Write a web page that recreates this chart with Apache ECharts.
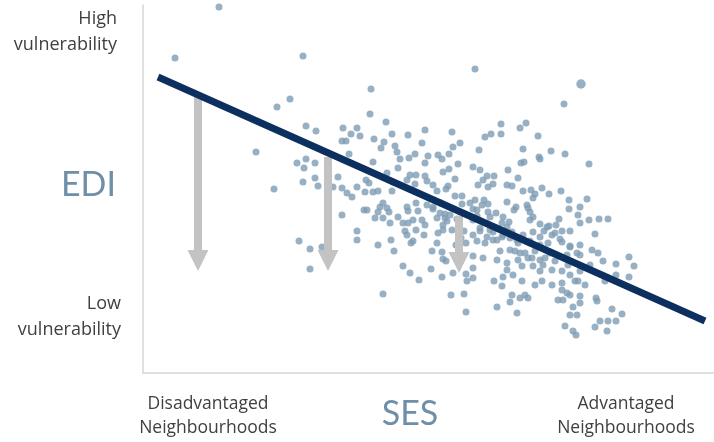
<!DOCTYPE html>
<html>
<head>
<meta charset="utf-8">
<script src="https://cdn.jsdelivr.net/npm/echarts@6/dist/echarts.min.js"></script>
<style>
  html, body { margin: 0; padding: 0; background: #fff; }
  #chart { width: 714px; height: 442px; }
</style>
</head>
<body>
<div id="chart"></div>
<script>
// SES (x) against EDI (y), arbitrary index units
const outlierPoints = [
  [7.6, 36.6], [3.2, 31.5], [16.0, 31.7], [14.7, 27.4], [13.4, 26.6], [11.3, 22.1],
  [13.1, 18.4], [22.8, 28.4], [33.2, 30.4], [42.1, 26.9]
]
const bigPoint = [[43.8, 28.9]]

const leftPoints = [
  [16.3, 24.7], [17.3, 24.2], [15.4, 21.0], [16.3, 21.4], [17.2, 21.0], [16.1, 20.5],
  [17.2, 19.5], [16.0, 19.1], [17.5, 18.7], [19.0, 18.6], [19.5, 19.6], [19.9, 18.5],
  [15.6, 13.2], [16.7, 12.4], [17.9, 12.6], [16.7, 10.4]
]

const midUpperPoints = [
  [22.7, 25.9], [24.3, 25.1], [20.0, 24.5], [21.4, 24.5], [20.8, 23.9], [21.7, 23.7],
  [26.5, 23.8], [28.2, 24.3], [30.9, 24.1], [24.9, 23.9], [19.9, 23.2], [20.3, 23.2],
  [23.1, 23.4], [24.1, 23.1], [27.9, 23.0], [31.7, 23.0], [31.0, 22.6], [25.2, 22.7],
  [23.8, 22.5], [25.4, 22.1], [20.6, 21.9], [26.6, 21.5], [27.2, 21.9], [28.5, 21.7],
  [29.5, 21.8], [30.6, 21.9], [25.7, 21.4], [29.9, 21.4], [23.0, 21.1], [28.2, 21.0],
  [31.5, 20.9], [25.5, 20.5], [30.6, 20.4], [30.0, 20.1], [24.4, 20.0], [26.7, 19.8],
  [27.3, 19.8], [28.2, 19.7], [28.4, 19.2], [26.4, 19.3], [31.2, 19.4], [22.3, 19.3],
  [22.6, 19.0], [25.0, 19.1], [27.2, 18.9], [29.0, 18.8], [30.5, 18.7], [21.4, 18.6],
  [22.2, 18.1], [23.0, 18.1], [23.5, 18.2], [20.4, 18.0], [24.9, 18.2], [29.4, 18.2],
  [30.3, 18.4], [20.9, 17.6], [31.2, 17.7], [31.9, 17.7]
]

const midLowerPoints = [
  [24.0, 17.0], [23.7, 16.6], [24.4, 16.5], [26.4, 16.6], [27.3, 17.0], [28.4, 16.8],
  [29.8, 17.0], [31.9, 16.9], [22.1, 16.3], [22.4, 16.3], [23.5, 16.1], [24.6, 16.1],
  [26.5, 16.2], [27.5, 16.2], [29.0, 16.4], [30.2, 15.9], [19.9, 15.8], [25.5, 15.6],
  [23.2, 15.5], [24.0, 15.5], [27.0, 15.3], [27.9, 15.3], [29.4, 15.5], [30.4, 15.2],
  [31.4, 15.4], [24.7, 15.0], [26.0, 15.0], [26.5, 15.0], [28.2, 14.8], [30.0, 14.8],
  [21.4, 14.2], [21.4, 13.3], [23.5, 12.8], [24.8, 13.3], [25.1, 12.2], [26.2, 14.2],
  [26.4, 13.8], [27.3, 14.3], [28.1, 13.8], [26.8, 13.0], [27.0, 13.2], [29.4, 13.0],
  [28.9, 12.2], [29.9, 12.1], [30.0, 11.4], [30.3, 11.2], [26.0, 10.7], [26.7, 10.0],
  [27.6, 9.3], [28.8, 10.4], [29.9, 9.6], [31.0, 10.0], [32.3, 9.9], [32.4, 9.2],
  [24.0, 7.9], [30.8, 7.8], [32.1, 7.9], [32.3, 6.1], [31.3, 12.8], [31.8, 13.5],
  [30.0, 14.3], [30.9, 14.3], [32.1, 14.2], [32.3, 13.0]
]

const denseCorePoints = [
  [29.0, 16.6], [29.7, 16.0], [30.2, 15.5], [30.7, 15.8], [29.5, 14.0], [32.7, 17.0],
  [33.4, 16.3], [33.9, 16.8], [34.5, 16.1], [33.0, 15.3], [33.7, 14.5], [34.4, 13.6],
  [35.0, 14.1], [35.4, 13.3], [35.9, 13.6], [36.4, 14.6], [36.9, 14.1], [37.4, 13.3],
  [38.0, 13.8], [38.7, 13.0], [36.7, 12.3], [37.7, 12.0], [38.5, 11.5], [39.0, 14.1],
  [39.7, 13.6], [40.4, 14.6], [41.2, 14.0], [41.9, 13.1], [42.7, 12.6], [43.4, 12.0]
]

const rightUpperPoints = [
  [35.8, 24.9], [37.7, 24.5], [38.3, 25.0], [34.2, 23.6], [34.8, 23.9], [35.8, 23.9],
  [39.5, 23.7], [33.6, 22.3], [38.0, 22.4], [39.6, 21.6], [39.7, 21.4], [40.8, 22.2],
  [42.2, 21.9], [37.8, 21.0], [38.1, 21.1], [44.6, 20.9], [33.0, 20.6], [33.7, 20.3],
  [36.5, 20.3], [34.4, 19.7], [35.1, 19.7], [34.0, 19.3], [37.5, 19.5], [33.5, 18.8],
  [34.5, 18.6], [35.0, 18.9], [36.4, 18.8], [36.9, 18.7], [38.0, 18.2], [38.8, 18.3],
  [39.9, 18.5], [40.6, 17.9], [41.8, 18.2], [39.2, 17.9], [39.0, 17.5], [33.2, 17.3],
  [34.1, 17.3], [34.5, 16.9], [36.4, 17.1], [38.4, 16.8], [38.5, 16.5], [37.3, 16.6],
  [37.1, 16.3], [42.6, 17.3], [44.4, 17.4], [43.7, 16.6], [42.6, 16.4], [33.0, 16.4],
  [35.3, 16.0], [38.7, 16.1], [39.0, 15.6], [43.5, 15.8], [33.4, 15.7], [36.0, 15.6],
  [36.6, 15.1], [35.9, 15.0], [38.7, 15.3], [39.7, 14.9], [40.6, 14.7], [41.3, 14.8],
  [41.6, 15.4], [43.7, 15.0], [44.6, 15.3], [45.6, 15.4], [46.5, 15.4], [34.7, 15.6]
]

const rightLowerPoints = [
  [33.0, 13.8], [33.7, 14.2], [34.7, 14.3], [33.4, 13.2], [34.2, 13.0], [35.0, 13.3],
  [36.0, 13.8], [36.7, 13.5], [40.1, 14.2], [40.9, 13.8], [41.9, 14.2], [42.7, 14.2],
  [45.2, 13.9], [41.7, 13.4], [37.5, 13.0], [38.7, 13.2], [39.7, 12.8], [40.5, 13.0],
  [42.7, 12.7], [43.7, 12.8], [44.9, 12.3], [45.5, 12.0], [35.7, 12.2], [37.2, 12.2],
  [38.2, 12.0], [39.2, 12.2], [40.7, 12.0], [42.4, 11.8], [43.7, 11.8], [33.0, 11.7],
  [34.0, 11.5], [35.4, 11.3], [38.9, 11.5], [39.7, 11.3], [40.2, 11.5], [41.2, 11.2],
  [37.5, 11.3], [36.4, 11.0], [46.0, 11.2], [48.6, 11.6], [47.3, 10.9], [49.1, 10.7],
  [37.9, 10.7], [39.0, 10.7], [40.0, 10.8], [40.9, 10.3], [41.9, 10.2], [42.5, 10.8],
  [33.0, 10.5], [36.4, 10.3], [39.7, 10.2], [43.7, 10.2], [44.7, 10.8], [37.0, 9.8],
  [42.7, 9.8], [43.2, 9.2], [43.5, 9.2], [33.0, 9.5], [36.0, 9.6], [35.1, 9.2],
  [37.9, 9.2], [39.9, 9.2], [40.9, 8.8], [41.9, 9.0], [39.2, 8.8], [35.9, 8.7],
  [44.2, 8.8], [46.2, 9.2], [47.3, 9.8], [48.6, 9.6], [36.9, 7.8], [37.7, 7.5],
  [38.2, 7.8], [38.5, 7.5], [41.9, 8.3], [42.4, 8.0], [41.5, 7.3], [42.0, 7.3],
  [42.7, 7.8], [43.7, 7.7], [43.7, 7.0], [45.3, 7.5], [45.4, 7.2], [36.7, 7.1],
  [35.4, 6.6], [43.0, 6.6], [46.9, 6.4], [37.4, 6.0], [42.7, 5.8], [43.4, 5.8],
  [47.9, 5.9], [45.7, 5.2], [46.5, 5.2], [47.3, 5.2], [42.2, 4.7], [45.2, 4.6],
  [46.4, 4.2], [43.0, 4.2], [43.3, 3.8]
]

const trendLine = [[1.5, 29.6], [56.2, 5.2]]

// drop arrows: x position, start just under the trend line, tip
const arrowX = [5.5, 18.5, 31.6]
const arrowTop = [27.6, 21.6, 15.7]
const arrowTip = [10.2, 10.2, 10.0]

const allPoints = [
  ...outlierPoints, ...leftPoints, ...midUpperPoints, ...midLowerPoints,
  ...denseCorePoints, ...rightUpperPoints, ...rightLowerPoints
]

const textFont = '"Open Sans", sans-serif'
const labelColor = '#404040'
const titleColor = '#6f8fa8'

const chart = echarts.init(document.getElementById('chart'))

const label = (text, x, y, align, size, color, family) => ({
  type: 'text',
  x: x,
  y: y,
  style: {
    text: text,
    align: align,
    verticalAlign: 'middle',
    fontFamily: family || textFont,
    fontSize: size,
    fill: color
  }
})

const option = {
  animation: false,
  backgroundColor: '#fff',
  grid: { left: 143, right: 0, top: 5, bottom: 69 },
  xAxis: {
    type: 'value',
    min: 0,
    max: 57.1,
    axisLine: { show: true, lineStyle: { color: '#d6d6d6', width: 1.5 } },
    axisTick: { show: false },
    axisLabel: { show: false },
    splitLine: { show: false }
  },
  yAxis: {
    type: 'value',
    min: 0,
    max: 36.8,
    axisLine: { show: true, lineStyle: { color: '#d6d6d6', width: 1.5 } },
    axisTick: { show: false },
    axisLabel: { show: false },
    splitLine: { show: false }
  },
  series: [
    {
      type: 'scatter',
      data: allPoints,
      symbolSize: 7,
      itemStyle: { color: '#7e9cb4' },
      z: 2
    },
    {
      type: 'scatter',
      data: bigPoint,
      symbolSize: 9.5,
      itemStyle: { color: '#7e9cb4' },
      z: 2
    },
    {
      type: 'custom',
      data: arrowX.map((x, i) => [x, arrowTop[i], arrowTip[i]]),
      encode: { x: 0, y: [1, 2] },
      z: 3,
      renderItem: (params, api) => {
        const a = api.coord([api.value(0), api.value(1)])
        const b = api.coord([api.value(0), api.value(2)])
        const head = 21
        const hw = 10.5
        const sw = 4
        return {
          type: 'group',
          children: [
            {
              type: 'rect',
              shape: { x: a[0] - sw, y: a[1], width: sw * 2, height: b[1] - head - a[1] },
              style: { fill: '#c3c3c3' }
            },
            {
              type: 'polygon',
              shape: { points: [[b[0] - hw, b[1] - head], [b[0] + hw, b[1] - head], [b[0], b[1]]] },
              style: { fill: '#c3c3c3' }
            }
          ]
        }
      }
    },
    {
      type: 'line',
      data: trendLine,
      symbol: 'none',
      lineStyle: { color: '#0b2f5e', width: 7, cap: 'butt' },
      z: 4
    }
  ],
  graphic: [
    label('High', 117, 19, 'right', 18, labelColor),
    label('vulnerability', 117, 45, 'right', 18, labelColor),
    label('EDI', 116, 185, 'right', 34, titleColor, 'Lato, sans-serif'),
    label('Low', 121, 304, 'right', 18, labelColor),
    label('vulnerability', 121, 330, 'right', 18, labelColor),
    label('Disadvantaged', 208, 404, 'center', 17.5, labelColor),
    label('Neighbourhoods', 208, 428, 'center', 17.5, labelColor),
    label('SES', 410, 414, 'center', 34, titleColor, 'Lato, sans-serif'),
    label('Advantaged', 626, 404, 'center', 17.5, labelColor),
    label('Neighbourhoods', 626, 428, 'center', 17.5, labelColor)
  ]
}

chart.setOption(option)
</script>
</body>
</html>
